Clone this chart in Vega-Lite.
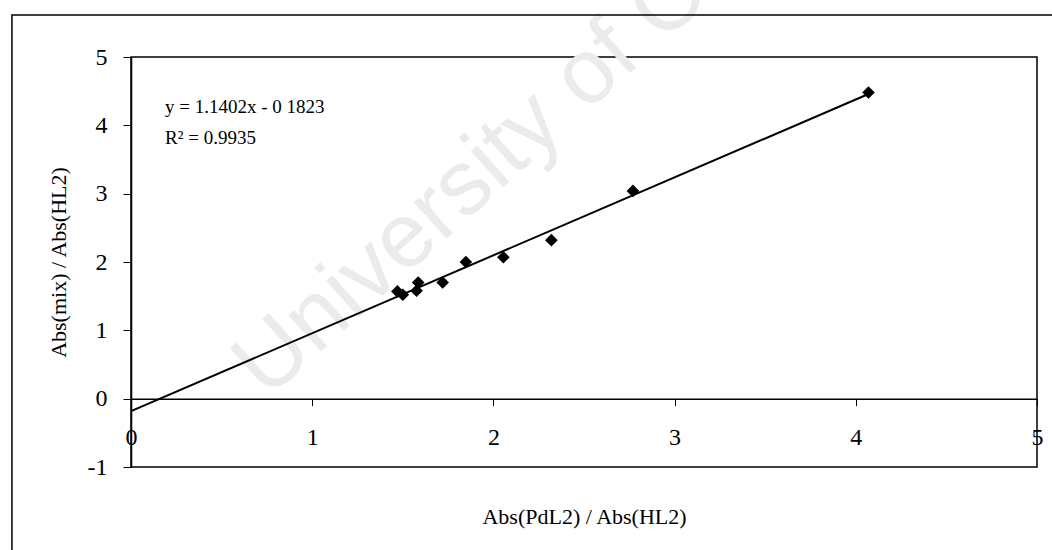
{
  "$schema": "https://vega.github.io/schema/vega-lite/v6.json",
  "width": 906,
  "height": 410,
  "autosize": {"type": "none"},
  "padding": {"left": 131, "top": 57, "right": 15, "bottom": 83},
  "background": "white",
  "config": {
    "view": {"stroke": "#000", "strokeWidth": 1.5},
    "font": "Liberation Serif",
    "axis": {"labelFont": "Liberation Serif", "titleFont": "Liberation Serif"}
  },
  "datasets": {
    "points": [
      {"ratio_pdl2": 1.47, "ratio_mix": 1.57},
      {"ratio_pdl2": 1.50, "ratio_mix": 1.52},
      {"ratio_pdl2": 1.585, "ratio_mix": 1.70},
      {"ratio_pdl2": 1.576, "ratio_mix": 1.58},
      {"ratio_pdl2": 1.72, "ratio_mix": 1.70},
      {"ratio_pdl2": 1.848, "ratio_mix": 2.00},
      {"ratio_pdl2": 2.055, "ratio_mix": 2.07},
      {"ratio_pdl2": 2.32, "ratio_mix": 2.32},
      {"ratio_pdl2": 2.77, "ratio_mix": 3.04},
      {"ratio_pdl2": 4.07, "ratio_mix": 4.48}
    ],
    "trend": [
      {"ratio_pdl2": 0, "ratio_mix": -0.1823},
      {"ratio_pdl2": 4.07, "ratio_mix": 4.458}
    ],
    "one": [{}]
  },
  "layer": [
    {
      "data": {"name": "one"},
      "mark": {"type": "text", "angle": -42, "align": "left", "baseline": "alphabetic", "font": "Liberation Sans", "fontSize": 92, "color": "#ebebeb"},
      "encoding": {
        "x": {"datum": 0.75, "type": "quantitative"},
        "y": {"datum": -0.02, "type": "quantitative"},
        "text": {"value": "University of Cape Town"}
      }
    },
    {
      "data": {"name": "one"},
      "mark": {"type": "rect", "filled": false, "stroke": "#000", "strokeWidth": 1.5, "clip": false},
      "encoding": {
        "x": {"datum": -0.657, "type": "quantitative"},
        "x2": {"datum": 5.3},
        "y": {"datum": 5.615, "type": "quantitative"},
        "y2": {"datum": -2.5}
      }
    },
    {
      "data": {"name": "trend"},
      "mark": {"type": "line", "color": "#000", "strokeWidth": 2},
      "encoding": {
        "x": {"field": "ratio_pdl2", "type": "quantitative"},
        "y": {"field": "ratio_mix", "type": "quantitative"}
      }
    },
    {
      "data": {"name": "points"},
      "mark": {"type": "point", "shape": "diamond", "filled": true, "color": "#000", "size": 160, "opacity": 1},
      "encoding": {
        "x": {
          "field": "ratio_pdl2", "type": "quantitative",
          "scale": {"domain": [0, 5], "nice": false, "zero": false},
          "axis": {
            "title": "Abs(PdL2) / Abs(HL2)",
            "orient": "bottom",
            "offset": -68.33,
            "values": [0, 1, 2, 3, 4, 5],
            "labelExpr": "'' + datum.value",
            "grid": false,
            "domainColor": "#000",
            "domainWidth": 1.5,
            "tickColor": "#000",
            "tickSize": 7,
            "labelFlush": false,
            "labelOverlap": false,
            "labelPadding": 20,
            "labelFontSize": 24,
            "labelColor": "#000",
            "titleFontSize": 22,
            "titleFontWeight": "normal",
            "titleColor": "#000",
            "titlePadding": 57
          }
        },
        "y": {
          "field": "ratio_mix", "type": "quantitative",
          "scale": {"domain": [-1, 5], "nice": false, "zero": false},
          "axis": {
            "title": "Abs(mix) / Abs(HL2)",
            "values": [-1, 0, 1, 2, 3, 4, 5],
            "labelExpr": "'' + datum.value",
            "grid": false,
            "domainColor": "#000",
            "domainWidth": 1.5,
            "tickColor": "#000",
            "tickSize": 8,
            "labelPadding": 16,
            "labelFontSize": 24,
            "labelColor": "#000",
            "titleFontSize": 22,
            "titleFontWeight": "normal",
            "titleColor": "#000",
            "titlePadding": 17
          }
        }
      }
    },
    {
      "data": {"name": "one"},
      "mark": {"type": "text", "align": "left", "baseline": "middle", "font": "Liberation Serif", "fontSize": 19, "color": "#000"},
      "encoding": {
        "x": {"datum": 0.188, "type": "quantitative"},
        "y": {"datum": 4.27, "type": "quantitative"},
        "text": {"value": "y = 1.1402x - 0 1823"}
      }
    },
    {
      "data": {"name": "one"},
      "mark": {"type": "text", "align": "left", "baseline": "middle", "font": "Liberation Serif", "fontSize": 19, "color": "#000"},
      "encoding": {
        "x": {"datum": 0.188, "type": "quantitative"},
        "y": {"datum": 3.82, "type": "quantitative"},
        "text": {"value": "R² = 0.9935"}
      }
    }
  ]
}
